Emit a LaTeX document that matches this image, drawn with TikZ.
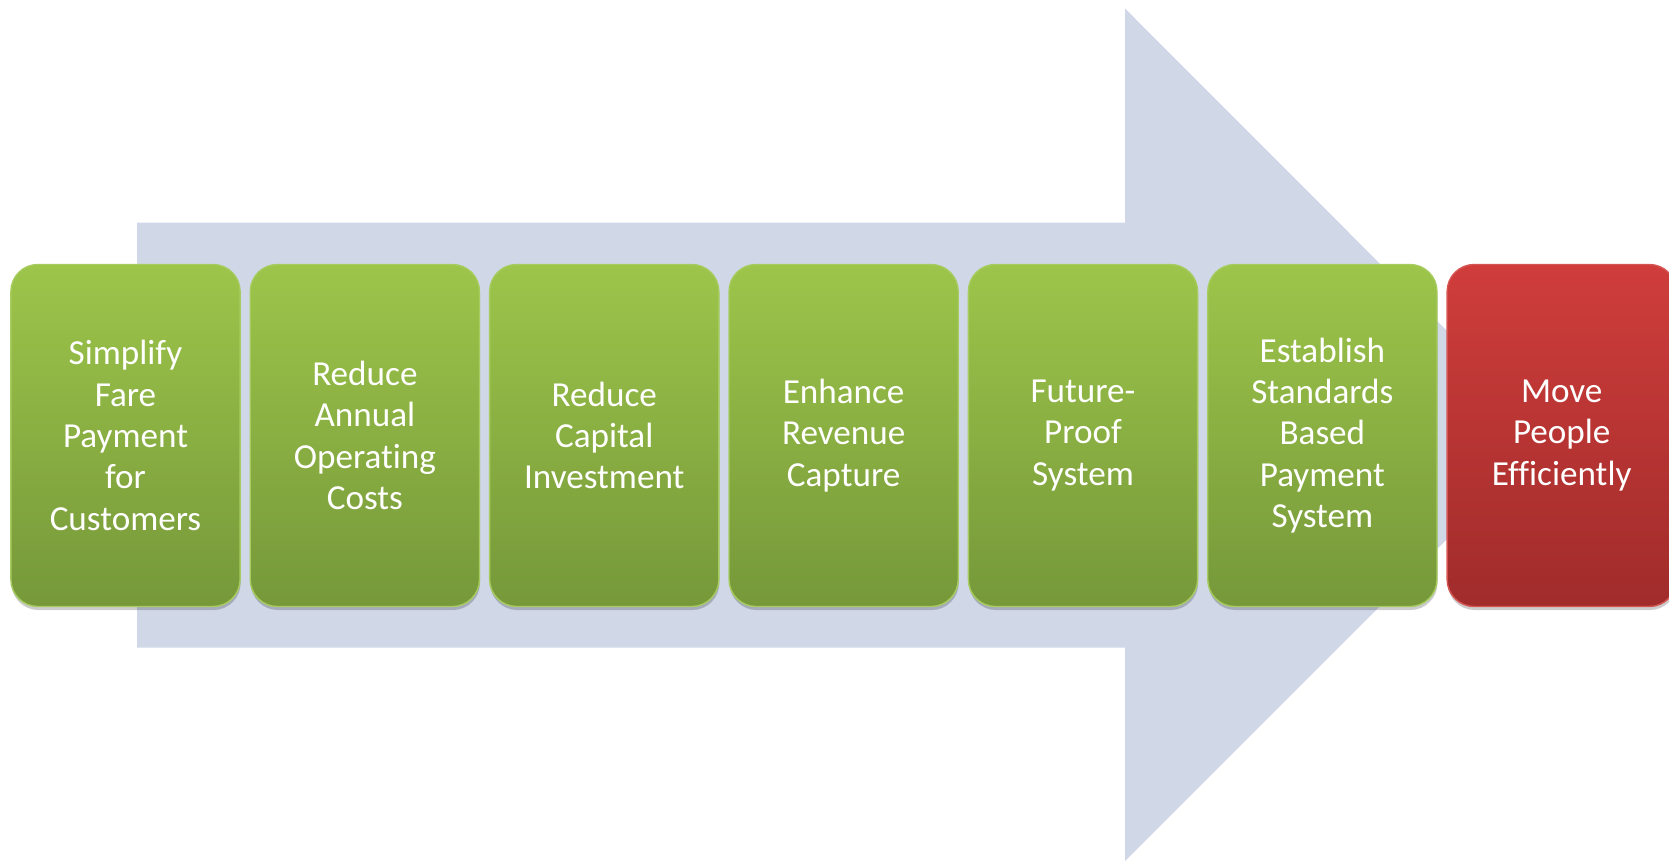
\documentclass[tikz,border=0pt]{standalone}
\usepackage{fontspec}
\setmainfont{Carlito}[Ligatures=NoCommon]
\usetikzlibrary{shapes,arrows,positioning,shadows}
\definecolor{arrowgrey}{HTML}{D0D8E8}
\definecolor{greentop}{HTML}{9DC54A}
\definecolor{greenbot}{HTML}{76983A}
\definecolor{greenline}{HTML}{A6CB5E}
\definecolor{redtop}{HTML}{CF3D3B}
\definecolor{redbot}{HTML}{A02C2B}
\definecolor{redline}{HTML}{D45552}
\tikzstyle{goal} = [rectangle, rounded corners=0.54cm, minimum width=4.5cm,
  minimum height=6.84cm, text width=4.35cm, align=center, text=white,
  font=\fontsize{20}{23.5}\selectfont, top color=greentop, bottom color=greenbot,
  draw=greenline, line width=0.8pt,
  drop shadow={shadow xshift=0.3pt, shadow yshift=-2pt, opacity=0.2, fill=black}]
\tikzstyle{aim} = [goal, top color=redtop, bottom color=redbot, draw=redline]

\begin{document}
\begin{tikzpicture}
		\useasboundingbox (0,0) rectangle (33.38,-17.22);
		%\draw[help lines] (0,0) grid (34,-18);
		\fill[arrowgrey] (2.74,-4.45) -- (22.5,-4.45) -- (22.5,-0.17) -- (31.02,-8.70)
			-- (22.5,-17.22) -- (22.5,-12.95) -- (2.74,-12.95) -- cycle;
		\node[goal] (g1) at (2.51,-8.71) {Simplify\\Fare\\Payment\\for\\Customers};
		\node[goal, right=0.175cm of g1] (g2) {Reduce\\Annual\\Operating\\Costs};
		\node[goal, right=0.175cm of g2] (g3) {Reduce\\Capital\\Investment};
		\node[goal, right=0.175cm of g3] (g4) {Enhance\\Revenue\\Capture};
		\node[goal, right=0.175cm of g4] (g5) {Future-\\Proof\\System};
		\node[goal, right=0.175cm of g5] (g6) {Establish\\Standards\\Based\\Payment\\System};
		\node[aim, right=0.175cm of g6] (m1) {Move\\People\\Efficiently};
\end{tikzpicture}
\end{document}
